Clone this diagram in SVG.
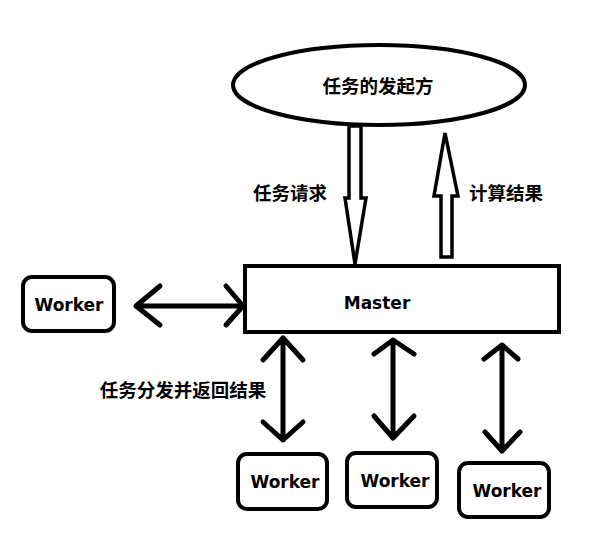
<svg xmlns="http://www.w3.org/2000/svg" width="603" height="541" viewBox="0 0 603 541">
<style>
.s{fill:#fff;stroke:#000;stroke-width:4}
.l{fill:none;stroke:#000;stroke-width:5;stroke-linecap:round;stroke-linejoin:round}
.h{fill:#fff;stroke:#000;stroke-width:3.5;stroke-linejoin:miter}
.t{font-family:"Noto Sans CJK SC","Liberation Sans",sans-serif;font-weight:bold;font-size:18.5px;fill:#000;text-anchor:middle;dominant-baseline:central}
.w{font-family:"DejaVu Sans","Liberation Sans",sans-serif;font-weight:bold;font-size:17px;fill:#000;text-anchor:middle;dominant-baseline:central}
</style>
<rect width="603" height="541" fill="#fff"/>
<g id="origin"><ellipse class="s" cx="379" cy="85" rx="146" ry="40"/><text class="t" x="378" y="85">任务的发起方</text></g>
<g id="master"><rect class="s" x="245" y="266" width="314" height="66"/><text class="w" x="377" y="303">Master</text></g>
<g id="worker-left"><rect class="s" x="23" y="277" width="91" height="54" rx="9"/><text class="w" x="69" y="305">Worker</text></g>
<g id="worker-1"><rect class="s" x="238" y="454" width="89" height="55" rx="9"/><text class="w" x="285" y="482">Worker</text></g>
<g id="worker-2"><rect class="s" x="347" y="453" width="90" height="54" rx="9"/><text class="w" x="395" y="481">Worker</text></g>
<g id="worker-3"><rect class="s" x="459" y="463" width="90" height="54" rx="9"/><text class="w" x="507" y="491">Worker</text></g>
<g id="connectors">
<polygon class="h" points="349,126 361,126 361,198 366,198 355,264 345,198 349,198"/>
<polygon class="h" points="441,257 452,257 452,196 458,196 445,133 434,196 441,196"/>
<path class="l" d="M136,306H243M160,286L136,306L160,325M226,286L243,306L226,325"/>
<path class="l" d="M283,338V440M263,360L283,338L303,360M263,422L283,440L303,422"/>
<path class="l" d="M393,340V438M374,354L393,340L414,354M374,416L393,438L414,416"/>
<path class="l" d="M502,345V451M484,359L502,345L518,359M485,432L502,451L520,432"/>
</g>
<text class="t" x="290" y="192">任务请求</text>
<text class="t" x="506" y="192">计算结果</text>
<text class="t" x="183" y="389">任务分发并返回结果</text>
</svg>
